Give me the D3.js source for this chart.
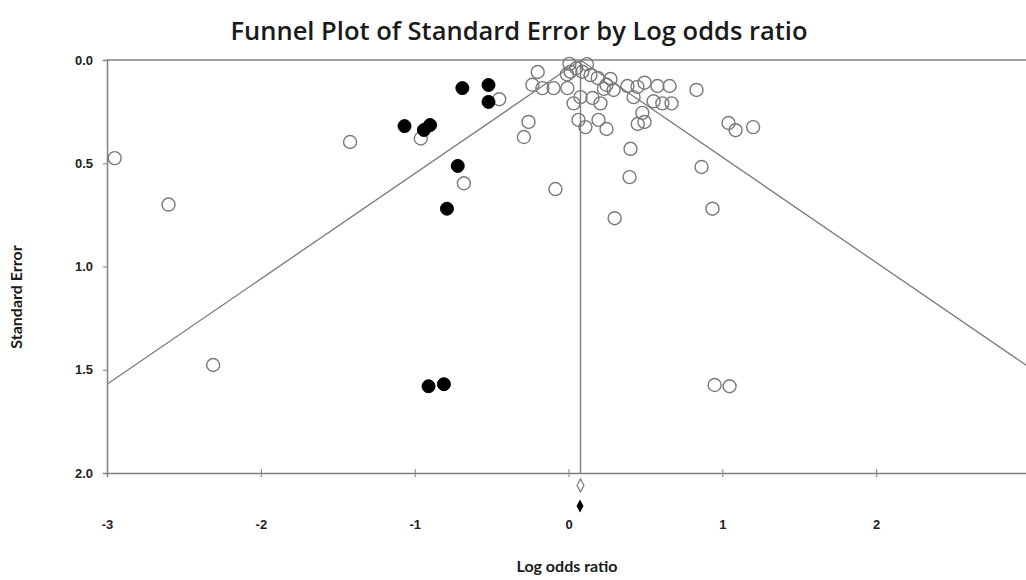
<!DOCTYPE html>
<html><head><meta charset="utf-8">
<script src="https://cdn.jsdelivr.net/npm/d3@7"></script>
<style>
html,body{margin:0;padding:0;background:#fff;}
svg{display:block;}
</style></head>
<body>
<svg id="chart" width="1026" height="580"></svg>
<script>
// Observed studies: [log odds ratio, standard error]
const observedLogOR = [-2.95,-2.60,-2.31,-1.42,-0.96,-0.68,-0.45,-0.20,-0.235,-0.17,-0.097,-0.007,-0.26,-0.29,-0.085,
  0.006,0.12,0.013,0.09,0.143,0.19,0.273,0.247,0.23,0.293,-0.01,0.05,
  0.383,0.448,0.494,0.578,0.657,0.832,0.423,0.553,0.61,0.67,0.033,0.078,0.156,0.208,0.065,0.11,0.195,0.247,
  0.48,0.45,0.494,1.04,1.086,1.2,0.403,0.397,0.865,0.936,0.30,0.95,1.047];
const observedSE = [0.475,0.70,1.477,0.397,0.38,0.597,0.19,0.058,0.12,0.136,0.136,0.136,0.30,0.373,0.625,
  0.019,0.02,0.057,0.057,0.073,0.087,0.092,0.12,0.14,0.145,0.07,0.04,
  0.126,0.13,0.11,0.126,0.126,0.145,0.18,0.20,0.21,0.21,0.21,0.18,0.184,0.21,0.29,0.325,0.29,0.334,
  0.256,0.31,0.30,0.305,0.34,0.325,0.43,0.567,0.518,0.72,0.766,1.574,1.58];
// Imputed (trim-and-fill) studies
const imputedLogOR = [-0.69,-0.52,-0.52,-1.066,-0.90,-0.94,-0.72,-0.79,-0.91,-0.81];
const imputedSE    = [0.136,0.121,0.203,0.32,0.315,0.339,0.513,0.72,1.58,1.57];
// Summary estimates
const summaryObserved = {logOR: 0.078, se: 2.06};
const summaryAdjusted = {logOR: 0.075, se: 2.16};
const xTicks = [-3,-2,-1,0,1,2,3];
const yTicks = [0,0.5,1.0,1.5,2.0];

const svg = d3.select("#chart");
const x = d3.scaleLinear().domain([-3,3]).range([107,1030]);
const y = d3.scaleLinear().domain([0,2]).range([60,473]);
const grey = "#808080";

// Title
svg.append("text").attr("x",519).attr("y",40).attr("text-anchor","middle")
  .attr("font-family","'Open Sans', Lato, sans-serif").attr("font-weight",600)
  .attr("font-size",25.5).attr("fill","#1a1a1a")
  .text("Funnel Plot of Standard Error by Log odds ratio");

// Frame: top border
svg.append("line").attr("x1",x(-3)).attr("x2",x(3)).attr("y1",y(0)).attr("y2",y(0))
  .attr("stroke",grey).attr("stroke-width",1.5);

// Y axis
const yAxis = d3.axisLeft(y).tickValues(yTicks).tickFormat(d3.format(".1f")).tickSize(4).tickPadding(10);
const gy = svg.append("g").attr("transform",`translate(${x(-3)},0)`).call(yAxis);
gy.select(".domain").attr("stroke",grey).attr("stroke-width",1.5);
gy.selectAll(".tick line").attr("stroke",grey);
gy.selectAll(".tick text").attr("font-family","'Liberation Sans', Arial, sans-serif")
  .attr("font-weight",700).attr("font-size",13).attr("fill","#222");

// X axis
const xAxis = d3.axisBottom(x).tickValues(xTicks).tickFormat(d3.format("d")).tickSize(4).tickPadding(43);
const gx = svg.append("g").attr("transform",`translate(0,${y(2)})`).call(xAxis);
gx.select(".domain").attr("stroke",grey).attr("stroke-width",1.5);
gx.selectAll(".tick line").attr("stroke",grey).attr("y1",-4);
gx.selectAll(".tick text").attr("font-family","'Liberation Sans', Arial, sans-serif")
  .attr("font-weight",700).attr("font-size",13).attr("fill","#222")
  .text(d => d < 0 ? "-" + Math.abs(d) : d);

// Axis titles
svg.append("text").attr("x",567).attr("y",572).attr("text-anchor","middle")
  .attr("font-family","Lato, 'Open Sans', sans-serif").attr("font-weight",700)
  .attr("font-size",16).attr("fill","#1a1a1a").text("Log odds ratio");
svg.append("text").attr("transform","translate(22,297) rotate(-90)").attr("text-anchor","middle")
  .attr("font-family","Lato, 'Open Sans', sans-serif").attr("font-weight",700)
  .attr("font-size",16).attr("fill","#1a1a1a").text("Standard Error");

// Funnel
const c = summaryObserved.logOR;
const funnel = [[-3,(c+3)/1.96],[c,0],[3,(3-c)/1.96]];
svg.append("path").datum(funnel)
  .attr("d", d3.line().x(d=>x(d[0])).y(d=>y(d[1])))
  .attr("fill","none").attr("stroke",grey).attr("stroke-width",1.4);
svg.append("line").attr("x1",x(c)).attr("x2",x(c)).attr("y1",y(0)).attr("y2",y(2))
  .attr("stroke",grey).attr("stroke-width",1.4);

// Observed (open) points
svg.append("g").selectAll("circle").data(observedLogOR.map((v,i)=>[v,observedSE[i]]))
  .join("circle").attr("cx",d=>x(d[0])).attr("cy",d=>y(d[1])).attr("r",6.5)
  .attr("fill","none").attr("stroke","#7a7a7a").attr("stroke-width",1.4);

// Imputed (filled) points
svg.append("g").selectAll("circle").data(imputedLogOR.map((v,i)=>[v,imputedSE[i]]))
  .join("circle").attr("cx",d=>x(d[0])).attr("cy",d=>y(d[1])).attr("r",6.5)
  .attr("fill","#000").attr("stroke","#000").attr("stroke-width",1);

// Summary diamonds
const diamond = (cx,cy,w,h) => `M${cx},${cy-h/2}L${cx+w/2},${cy}L${cx},${cy+h/2}L${cx-w/2},${cy}Z`;
svg.append("path").attr("d",diamond(x(summaryObserved.logOR),y(summaryObserved.se),7,13))
  .attr("fill","#fff").attr("stroke","#808080").attr("stroke-width",1.2);
svg.append("path").attr("d",diamond(x(summaryAdjusted.logOR),y(summaryAdjusted.se),7,13))
  .attr("fill","#000");
</script>
</body></html>
